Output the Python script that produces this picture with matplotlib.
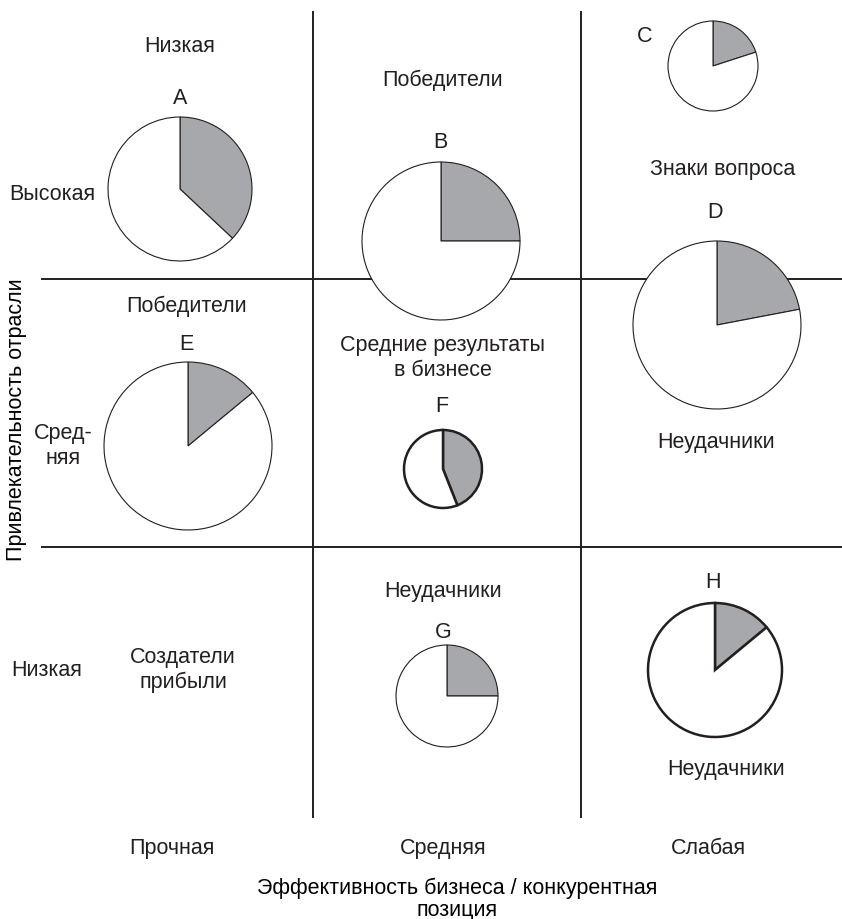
import matplotlib
matplotlib.use("Agg")
import matplotlib.pyplot as plt

plt.rcParams["font.family"] = ["Liberation Sans", "DejaVu Sans"]

# data: business units, shaded share of each pie, relative pie size
units = ["A", "B", "C", "D", "E", "F", "G", "H"]
shares = [0.37, 0.25, 0.20, 0.22, 0.14, 0.44, 0.25, 0.14]
sizes = [72, 79, 45, 84, 84, 39, 51, 67]

col_labels = ["Прочная", "Средняя", "Слабая"]
row_labels = ["Высокая", "Сред-\nняя", "Низкая"]
x_title = "Эффективность бизнеса / конкурентная\nпозиция"
y_title = "Привлекательность отрасли"

# layout (pixel coordinates, y measured from top)
W, H = 842, 920
pie_pos = {"A": (180, 190), "B": (441, 242), "C": (713, 67), "D": (717, 326),
           "E": (188, 447), "F": (443, 470), "G": (447, 697), "H": (715, 671)}
letter_pos = {"A": (180, 98), "B": (440, 142), "C": (645, 36), "D": (715, 212),
              "E": (186, 345), "F": (442, 406), "G": (443, 632), "H": (713, 583)}
thick = {"F", "H"}

cell_texts = [
    ("Низкая", 180, 47), ("Победители", 443, 80), ("Знаки вопроса", 723, 170),
    ("Победители", 187, 306), ("Средние результаты\nв бизнесе", 443, 358),
    ("Неудачники", 716, 443), ("Неудачники", 443, 592),
    ("Создатели\nприбыли", 183, 670), ("Неудачники", 726, 770),
]
row_pos = [(52, 195), (63, 446), (47, 671)]
col_x = [172, 443, 708]

GRAY = "#a7a8ab"
INK = "#231f20"
FS = 15.5

fig = plt.figure(figsize=(W / 100, H / 100), dpi=100)
ax = fig.add_axes([0, 0, 1, 1])

def fy(y):
    return H - y

# grid lines
for x in (313, 581):
    ax.plot([x, x], [fy(13), fy(818)], color=INK, lw=1.4, zorder=1)
for y in (280, 548):
    ax.plot([42, W], [fy(y), fy(y)], color=INK, lw=1.4, zorder=1)

# pies
for u, s, r in zip(units, shares, sizes):
    cx, cy = pie_pos[u]
    lw = 1.8 if u in thick else 0.8
    wedges, _ = ax.pie([s, 1 - s], startangle=90, counterclock=False,
                       colors=[GRAY, "white"], radius=r, center=(cx, fy(cy)),
                       wedgeprops=dict(edgecolor=INK, linewidth=lw), frame=True)
    for w in wedges:
        w.set_zorder(3)
    lx, ly = letter_pos[u]
    ax.text(lx, fy(ly), u, ha="center", va="center", fontsize=FS, color=INK)

for t, x, y in cell_texts:
    ax.text(x, fy(y), t, ha="center", va="center", fontsize=FS, color=INK,
            linespacing=1.2)

# row labels
for t, (x, y) in zip(row_labels, row_pos):
    ax.text(x, fy(y), t, ha="center", va="center", fontsize=FS, color=INK,
            linespacing=1.25)

# column labels
for t, x in zip(col_labels, col_x):
    ax.text(x, fy(849), t, ha="center", va="center", fontsize=FS, color=INK)

ax.text(457, fy(899), x_title, ha="center", va="center", fontsize=FS,
        color="black", linespacing=1.05)
ax.text(17, fy(420), y_title, ha="center", va="center", rotation=90,
        fontsize=15.5, color="black")

ax.set_xlim(0, W)
ax.set_ylim(0, H)
ax.set_aspect("auto")
ax.axis("off")

fig.savefig("out.png", dpi=100, facecolor="white")
